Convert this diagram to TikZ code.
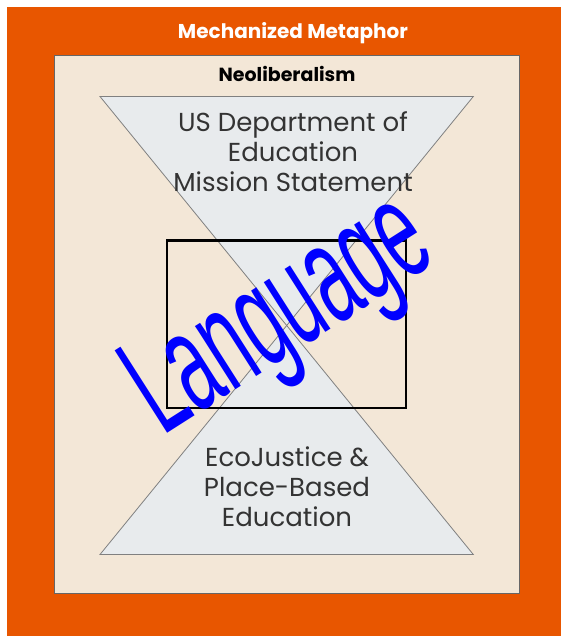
\documentclass[tikz,border=0pt]{standalone}
\usepackage{fontspec}
\setmainfont{Poppins}
\newfontfamily\langfont{Liberation Sans}
\usepackage{graphicx}

\definecolor{mechorange}{RGB}{232,86,0}
\definecolor{neobeige}{RGB}{243,231,215}
\definecolor{glassgray}{RGB}{232,235,237}
\definecolor{edgegray}{RGB}{128,128,128}

\tikzset{
  bodytext/.style={align=center, text=black!80, font=\fontsize{26}{30}\selectfont, inner sep=0pt},
  glass/.style={fill=glassgray, draw=edgegray, line width=0.8pt},
}

\begin{document}
\begin{tikzpicture}[x=1pt, y=-1pt]
\useasboundingbox (0,0) rectangle (561,636);

\fill[mechorange] (7,7) rectangle (561,636);
\draw[fill=neobeige, draw=black!60, line width=1pt] (54.5,56) rectangle (519,593);
\node[text=white, font=\bfseries\fontsize{20}{22}\selectfont] (metaphor_text) at (293,33) {Mechanized Metaphor};
\node[font=\bfseries\fontsize{19}{22}\selectfont] (neolib_text) at (287,74) {Neoliberalism};

\coordinate (cross) at (286.7,325.5);
\draw[glass] (100,96.5) -- (473.3,96.5) -- (cross) -- cycle;
\draw[glass] (100,554.5) -- (473.3,554.5) -- (cross) -- cycle;

\draw[line width=2.8pt] (167,240.5) rectangle (406,408);

\node[bodytext, anchor=base] (mission_text) at (293,191.7) {US Department of\\Education\\Mission Statement};
\node[bodytext, anchor=base] (eco_text) at (287,526) {EcoJustice \&\\Place-Based\\Education};

\node[text=blue, font=\langfont\fontsize{142}{142}\selectfont, inner sep=0pt, rotate=32.5, anchor=base west] (language_text) at (162,437) {\scalebox{0.52}[1]{Language}};
\end{tikzpicture}
\end{document}
